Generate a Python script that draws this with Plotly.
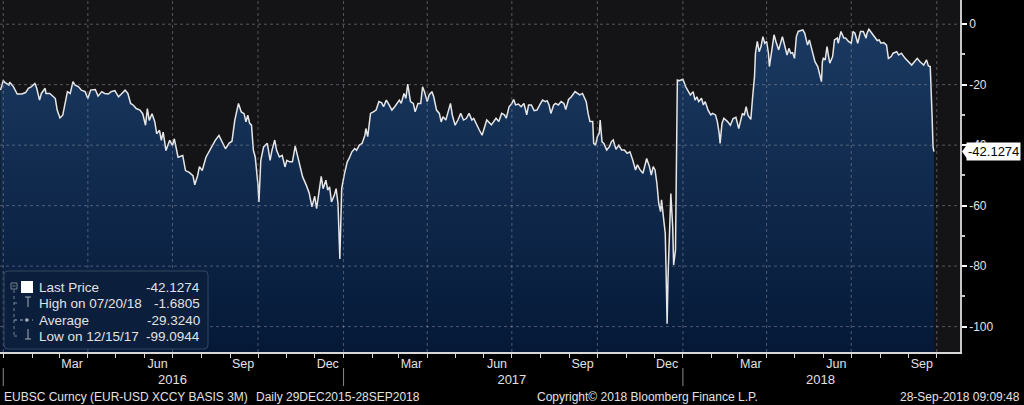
import plotly.graph_objects


# EUR-USD 3M cross currency basis
DATES = [
    '2015-12-29', '2016-01-01', '2016-01-03', '2016-01-07', '2016-01-08', '2016-01-12', '2016-01-16',
    '2016-01-21', '2016-01-25', '2016-01-28', '2016-01-31', '2016-02-04', '2016-02-06', '2016-02-09',
    '2016-02-11', '2016-02-15', '2016-02-16', '2016-02-20', '2016-02-24', '2016-02-26', '2016-02-28',
    '2016-03-02', '2016-03-05', '2016-03-07', '2016-03-10', '2016-03-13', '2016-03-16', '2016-03-18',
    '2016-03-22', '2016-03-25', '2016-03-29', '2016-04-01', '2016-04-04', '2016-04-09', '2016-04-12',
    '2016-04-16', '2016-04-19', '2016-04-23', '2016-04-26', '2016-04-30', '2016-05-04', '2016-05-07',
    '2016-05-11', '2016-05-14', '2016-05-17', '2016-05-20', '2016-05-23', '2016-05-27', '2016-05-30',
    '2016-06-02', '2016-06-04', '2016-06-06', '2016-06-09', '2016-06-12', '2016-06-14', '2016-06-17',
    '2016-06-19', '2016-06-21', '2016-06-24', '2016-06-28', '2016-07-01', '2016-07-03', '2016-07-07',
    '2016-07-12', '2016-07-15', '2016-07-19', '2016-07-23', '2016-07-25', '2016-07-28', '2016-07-30',
    '2016-08-02', '2016-08-06', '2016-08-09', '2016-08-13', '2016-08-16', '2016-08-20', '2016-08-24',
    '2016-08-27', '2016-08-31', '2016-09-03', '2016-09-06', '2016-09-09', '2016-09-10', '2016-09-13',
    '2016-09-16', '2016-09-18', '2016-09-20', '2016-09-22', '2016-09-24', '2016-09-26', '2016-09-28',
    '2016-10-01', '2016-10-02', '2016-10-04', '2016-10-07', '2016-10-09', '2016-10-11', '2016-10-14',
    '2016-10-16', '2016-10-19', '2016-10-21', '2016-10-24', '2016-10-27', '2016-10-30', '2016-11-01',
    '2016-11-04', '2016-11-07', '2016-11-10', '2016-11-13', '2016-11-15', '2016-11-18', '2016-11-22',
    '2016-11-25', '2016-11-28', '2016-12-01', '2016-12-03', '2016-12-05', '2016-12-08', '2016-12-10',
    '2016-12-13', '2016-12-15', '2016-12-17', '2016-12-19', '2016-12-22', '2016-12-24', '2016-12-26',
    '2016-12-28', '2016-12-30', '2017-01-02', '2017-01-05', '2017-01-07', '2017-01-10', '2017-01-13',
    '2017-01-15', '2017-01-18', '2017-01-21', '2017-01-24', '2017-01-25', '2017-01-27', '2017-01-30',
    '2017-02-02', '2017-02-05', '2017-02-08', '2017-02-11', '2017-02-13', '2017-02-16', '2017-02-19',
    '2017-02-22', '2017-02-25', '2017-02-28', '2017-03-02', '2017-03-04', '2017-03-07', '2017-03-09',
    '2017-03-11', '2017-03-14', '2017-03-17', '2017-03-19', '2017-03-22', '2017-03-25', '2017-03-27',
    '2017-03-29', '2017-04-01', '2017-04-03', '2017-04-06', '2017-04-08', '2017-04-11', '2017-04-14',
    '2017-04-16', '2017-04-18', '2017-04-21', '2017-04-24', '2017-04-26', '2017-04-28', '2017-05-01',
    '2017-05-04', '2017-05-07', '2017-05-10', '2017-05-13', '2017-05-16', '2017-05-19', '2017-05-21',
    '2017-05-24', '2017-05-27', '2017-05-30', '2017-06-01', '2017-06-04', '2017-06-09', '2017-06-12',
    '2017-06-14', '2017-06-17', '2017-06-20', '2017-06-23', '2017-06-25', '2017-06-28', '2017-07-01',
    '2017-07-03', '2017-07-05', '2017-07-08', '2017-07-11', '2017-07-14', '2017-07-17', '2017-07-19',
    '2017-07-22', '2017-07-25', '2017-07-28', '2017-07-31', '2017-08-03', '2017-08-06', '2017-08-08',
    '2017-08-10', '2017-08-12', '2017-08-15', '2017-08-17', '2017-08-20', '2017-08-23', '2017-08-26',
    '2017-08-28', '2017-08-31', '2017-09-03', '2017-09-07', '2017-09-10', '2017-09-12', '2017-09-15',
    '2017-09-17', '2017-09-19', '2017-09-21', '2017-09-23', '2017-09-26', '2017-09-27', '2017-09-29',
    '2017-10-01', '2017-10-03', '2017-10-04', '2017-10-06', '2017-10-08', '2017-10-11', '2017-10-14',
    '2017-10-16', '2017-10-18', '2017-10-21', '2017-10-24', '2017-10-27', '2017-10-30', '2017-11-02',
    '2017-11-05', '2017-11-08', '2017-11-11', '2017-11-13', '2017-11-16', '2017-11-19', '2017-11-22',
    '2017-11-23', '2017-11-26', '2017-11-28', '2017-11-30', '2017-12-02', '2017-12-04', '2017-12-06',
    '2017-12-08', '2017-12-09', '2017-12-11', '2017-12-13', '2017-12-14', '2017-12-15', '2017-12-16',
    '2017-12-18', '2017-12-19', '2017-12-21', '2017-12-22', '2017-12-24', '2017-12-26', '2017-12-28',
    '2018-01-01', '2018-01-04', '2018-01-07', '2018-01-09', '2018-01-12', '2018-01-14', '2018-01-16',
    '2018-01-18', '2018-01-21', '2018-01-23', '2018-01-25', '2018-01-28', '2018-01-31', '2018-02-02',
    '2018-02-05', '2018-02-07', '2018-02-09', '2018-02-10', '2018-02-12', '2018-02-14', '2018-02-18',
    '2018-02-21', '2018-02-24', '2018-02-27', '2018-03-02', '2018-03-04', '2018-03-06', '2018-03-08',
    '2018-03-10', '2018-03-12', '2018-03-15', '2018-03-17', '2018-03-19', '2018-03-20', '2018-03-22',
    '2018-03-24', '2018-03-26', '2018-03-28', '2018-03-30', '2018-04-01', '2018-04-03', '2018-04-04',
    '2018-04-06', '2018-04-09', '2018-04-11', '2018-04-14', '2018-04-18', '2018-04-21', '2018-04-23',
    '2018-04-25', '2018-04-27', '2018-04-29', '2018-05-01', '2018-05-03', '2018-05-05', '2018-05-08',
    '2018-05-10', '2018-05-12', '2018-05-15', '2018-05-17', '2018-05-20', '2018-05-23', '2018-05-26',
    '2018-05-28', '2018-05-30', '2018-05-31', '2018-06-01', '2018-06-03', '2018-06-05', '2018-06-07',
    '2018-06-08', '2018-06-11', '2018-06-13', '2018-06-16', '2018-06-17', '2018-06-20', '2018-06-23',
    '2018-06-25', '2018-06-28', '2018-07-01', '2018-07-03', '2018-07-05', '2018-07-08', '2018-07-11',
    '2018-07-14', '2018-07-17', '2018-07-18', '2018-07-20', '2018-07-23', '2018-07-26', '2018-07-29',
    '2018-07-31', '2018-08-02', '2018-08-05', '2018-08-08', '2018-08-10', '2018-08-13', '2018-08-15',
    '2018-08-19', '2018-08-21', '2018-08-24', '2018-08-28', '2018-08-31', '2018-09-04', '2018-09-07',
    '2018-09-10', '2018-09-13', '2018-09-15', '2018-09-17', '2018-09-20', '2018-09-22', '2018-09-24',
    '2018-09-25', '2018-09-26', '2018-09-27', '2018-09-28',
]

BASIS = [
    -21.8, -18.7, -19.3, -20.1, -19.2, -20.7, -23.1,
    -23.1, -22.6, -21.2, -20.7, -19.6, -21.2, -25.1,
    -22.9, -21.2, -22.9, -22.9, -24.0, -24.6, -28.4,
    -31.0, -30.1, -27.3, -22.3, -22.9, -19.0, -20.1,
    -20.7, -21.8, -22.3, -24.6, -21.8, -21.6, -23.8,
    -22.3, -22.9, -23.1, -22.3, -22.0, -24.0, -23.1,
    -21.8, -22.9, -26.2, -26.8, -27.9, -28.4, -29.6,
    -33.4, -27.9, -31.8, -29.6, -32.3, -36.2, -35.1,
    -38.4, -35.7, -41.8, -38.4, -40.1, -37.9, -44.0,
    -43.4, -48.4, -49.0, -50.1, -53.1, -50.1, -47.1,
    -48.4, -44.0, -42.3, -39.6, -38.4, -36.8, -39.6,
    -41.2, -39.3, -38.7, -31.8, -27.9, -26.2, -29.0,
    -29.6, -32.3, -30.1, -32.8, -33.4, -41.7, -43.9,
    -53.3, -58.8, -45.0, -40.6, -40.0, -39.4, -45.0,
    -41.7, -38.3, -41.7, -43.9, -43.4, -47.2, -45.0,
    -45.5, -45.5, -40.3, -43.9, -47.2, -50.5, -53.3,
    -55.8, -60.4, -56.9, -61.0, -56.6, -50.3, -54.4,
    -51.6, -54.9, -53.8, -58.8, -56.6, -54.4, -59.3,
    -77.6, -54.4, -49.4, -45.5, -44.4, -42.2, -41.1,
    -41.7, -40.0, -39.4, -36.7, -34.5, -37.2, -29.5,
    -29.0, -28.4, -25.6, -26.0, -27.3, -25.1, -26.7,
    -28.4, -27.3, -26.2, -25.1, -26.2, -22.9, -24.5,
    -19.8, -25.6, -26.2, -29.0, -26.2, -26.2, -20.7,
    -22.3, -25.6, -23.4, -22.3, -24.0, -28.4, -29.5,
    -32.3, -30.6, -31.7, -28.4, -26.2, -30.1, -33.4,
    -31.7, -29.5, -31.7, -31.2, -29.5, -31.7, -31.2,
    -33.4, -35.0, -36.7, -34.5, -31.7, -33.3, -32.2,
    -31.1, -32.2, -29.5, -30.0, -31.1, -27.3, -26.2,
    -24.9, -26.7, -26.4, -27.3, -26.2, -30.0, -26.7,
    -26.7, -28.6, -28.4, -26.7, -25.1, -25.6, -25.3,
    -26.7, -29.5, -26.7, -26.2, -26.7, -25.6, -26.2,
    -28.2, -24.9, -24.0, -22.3, -22.9, -23.4, -22.9,
    -24.0, -25.6, -29.5, -32.2, -32.2, -39.4, -40.0,
    -37.2, -36.1, -31.7, -38.9, -39.4, -41.6, -40.5,
    -38.9, -38.3, -41.4, -40.0, -41.6, -41.6, -42.7,
    -42.2, -44.9, -48.2, -46.5, -48.2, -49.3, -46.0,
    -44.4, -47.1, -49.9, -47.1, -48.2, -52.6, -59.3,
    -62.0, -58.1, -63.7, -69.2, -83.5, -99.0944, -83.5,
    -59.3, -56.0, -67.0, -79.6, -74.7, -18.5, -18.7,
    -18.2, -20.7, -22.3, -23.4, -22.3, -25.1, -24.0,
    -25.6, -24.5, -26.7, -25.6, -28.4, -30.0, -29.5,
    -30.0, -32.2, -36.1, -39.4, -32.8, -31.1, -32.2,
    -33.4, -31.2, -30.8, -34.5, -32.3, -29.5, -30.1,
    -27.3, -30.1, -31.5, -24.0, -17.3, -9.6, -5.7,
    -9.1, -7.4, -4.1, -6.3, -5.7, -9.6, -14.0,
    -9.6, -3.5, -5.7, -8.5, -4.1, -7.4, -10.2,
    -8.0, -9.6, -9.4, -11.3, -4.1, -2.4, -2.1,
    -1.9, -3.0, -6.9, -5.2, -8.5, -12.4, -14.0,
    -16.2, -19.0, -12.4, -11.3, -11.8, -7.4, -11.3,
    -12.9, -10.7, -5.2, -4.6, -6.3, -2.4, -4.6,
    -4.6, -5.7, -6.3, -2.4, -3.0, -6.3, -2.4,
    -2.4, -4.6, -3.0, -1.6805, -3.0, -4.1, -5.4,
    -5.2, -6.3, -6.1, -6.9, -11.3, -10.7, -9.6,
    -9.1, -10.2, -9.6, -11.3, -12.4, -13.5, -12.4,
    -11.3, -12.4, -12.9, -13.5, -11.8, -13.8, -14.0,
    -20.7, -30.6, -40.6, -42.1274,
]

LEGEND_LABELS = ['Last Price', 'High on 07/20/18', 'Average', 'Low on 12/15/17']
LEGEND_VALUES = [-42.1274, -1.6805, -29.3240, -99.0944]
LAST_VALUE = LEGEND_VALUES[0]

MONTH_TICKS = [
    '2016-03-15', '2016-06-15', '2016-09-15', '2016-12-15',
    '2017-03-15', '2017-06-15', '2017-09-15', '2017-12-15',
    '2018-03-15', '2018-06-15', '2018-09-15',
]
MONTH_LABELS = ['Mar', 'Jun', 'Sep', 'Dec', 'Mar', 'Jun', 'Sep', 'Dec', 'Mar', 'Jun', 'Sep']
YEAR_TICKS = ['2016-07-01', '2017-07-01', '2018-05-29']
YEAR_LABELS = ['2016', '2017', '2018']
YEAR_BREAKS = ['2016-01-01', '2017-01-01', '2018-01-01']
QUARTER_STARTS = [
    '2016-01-01', '2016-04-01', '2016-07-01', '2016-10-01',
    '2017-01-01', '2017-04-01', '2017-07-01', '2017-10-01',
    '2018-01-01', '2018-04-01', '2018-07-01', '2018-10-01',
]
Y_TICKS = [0, -20, -40, -60, -80, -100]
Y_TICK_LABELS = ['0', '-20', '-40', '-60', '-80', '-100']
Y_MINOR_TICKS = [-10, -30, -50, -70, -90]

X_RANGE = ['2015-12-28 12:00', '2018-10-26']
Y_MIN = -108.4
Y_MAX = 8.0

# plot area in pixels (margin l=0, t=0)
PLOT_W = 960
PLOT_H = 352

FONT = 'Liberation Sans'
TEXT_COLOR = '#e2e2e2'
GRID_COLOR = 'rgba(150,150,165,0.5)'


def px(x):
    return x / PLOT_W


def py(y):
    return (PLOT_H - y) / PLOT_H


def rounded_box(x0, y0, x1, y1, r):
    return (
        f'M {px(x0 + r)},{py(y0)} L {px(x1 - r)},{py(y0)} '
        f'Q {px(x1)},{py(y0)} {px(x1)},{py(y0 + r)} L {px(x1)},{py(y1 - r)} '
        f'Q {px(x1)},{py(y1)} {px(x1 - r)},{py(y1)} L {px(x0 + r)},{py(y1)} '
        f'Q {px(x0)},{py(y1)} {px(x0)},{py(y1 - r)} L {px(x0)},{py(y0 + r)} '
        f'Q {px(x0)},{py(y0)} {px(x0 + r)},{py(y0)} Z'
    )


def seg(x0, y0, x1, y1, color, width=1, dash='solid'):
    return dict(
        type='line', xref='paper', yref='paper', layer='above',
        x0=px(x0), y0=py(y0), x1=px(x1), y1=py(y1),
        line=dict(color=color, width=width, dash=dash),
    )


def main():
    figure = plotly.graph_objects.Figure()

    # invisible floor for the area fill, also keeps the label axes alive
    for axis in ['x3', 'x2', 'x']:
        figure.add_trace(plotly.graph_objects.Scatter(
            x=[DATES[0], DATES[-1]],
            y=[Y_MIN, Y_MIN],
            xaxis=axis,
            mode='lines',
            line=dict(width=0, color='rgba(0,0,0,0)'),
            hoverinfo='skip',
            showlegend=False,
        ))
    figure.add_trace(plotly.graph_objects.Scatter(
        x=DATES,
        y=BASIS,
        name='Last Price',
        mode='lines',
        line=dict(color='#e6e6e6', width=1.5),
        fill='tonexty',
        fillgradient=dict(
            type='vertical',
            colorscale=[[0, '#051937'], [1, '#1b3a62']],
            start=Y_MIN,
            stop=0,
        ),
        showlegend=False,
    ))

    shapes = []
    # dotted grid, drawn on top of the area like the terminal does
    for d in QUARTER_STARTS:
        shapes.append(dict(
            type='line', xref='x', yref='paper', layer='above',
            x0=d, x1=d, y0=0, y1=1,
            line=dict(color=GRID_COLOR, width=1, dash='dot'),
        ))
    for v in Y_TICKS:
        shapes.append(dict(
            type='line', xref='paper', yref='y', layer='above',
            x0=0, x1=1, y0=v, y1=v,
            line=dict(color=GRID_COLOR, width=1, dash='dot'),
        ))
    # year separators under the month labels
    for d in YEAR_BREAKS:
        shapes.append(dict(
            type='line', xref='x', yref='paper', layer='above',
            x0=d, x1=d, y0=py(368), y1=py(386),
            line=dict(color='#8a8a8a', width=1),
        ))

    # legend panel
    shapes.append(dict(
        type='path', xref='paper', yref='paper', layer='above',
        path=rounded_box(4, 271, 208, 349, 4),
        fillcolor='#0b1e3b', line=dict(color='#34465e', width=1),
    ))
    tree = '#75808e'
    icon = '#a4acb6'
    shapes.append(dict(
        type='rect', xref='paper', yref='paper', layer='above',
        x0=px(11), x1=px(17), y0=py(283), y1=py(289),
        line=dict(color=tree, width=1),
    ))
    shapes.append(seg(12.5, 286, 15.5, 286, tree))
    shapes.append(seg(14, 290, 14, 336, tree, dash='dot'))
    shapes.append(seg(14, 303, 20, 303, tree, dash='dot'))
    shapes.append(seg(14, 336, 20, 336, tree, dash='dot'))
    shapes.append(dict(
        type='rect', xref='paper', yref='paper', layer='above',
        x0=px(21), x1=px(33), y0=py(281), y1=py(293),
        fillcolor='#ffffff', line=dict(width=0),
    ))
    # high marker
    shapes.append(seg(25, 297, 31, 297, icon))
    shapes.append(seg(28, 297, 28, 307, icon))
    # average marker
    shapes.append(seg(14, 320, 33, 320, icon, dash='dot'))
    shapes.append(dict(
        type='circle', xref='paper', yref='paper', layer='above',
        x0=px(25), x1=px(28.5), y0=py(318.3), y1=py(321.7),
        fillcolor=icon, line=dict(width=0),
    ))
    # low marker
    shapes.append(seg(28, 329, 28, 339, icon))
    shapes.append(seg(25, 339, 31, 339, icon))

    # tip of the last price flag on the axis
    shapes.append(dict(
        type='path', xref='paper', yref='y', layer='above',
        xsizemode='pixel', ysizemode='pixel',
        xanchor=1, yanchor=LAST_VALUE,
        path='M 2,0 L 7,7 L 7,-7 Z',
        fillcolor='#ffffff', line=dict(width=0),
    ))

    annotations = []
    rows = [287, 303, 320, 336]
    for label, value, row in zip(LEGEND_LABELS, LEGEND_VALUES, rows):
        annotations.append(dict(
            xref='paper', yref='paper', x=px(37), y=py(row),
            xanchor='left', yanchor='middle', showarrow=False,
            text=label, font=dict(family=FONT, size=13.5, color=TEXT_COLOR),
        ))
        annotations.append(dict(
            xref='paper', yref='paper', x=px(202), y=py(row),
            xanchor='right', yanchor='middle', showarrow=False,
            text=f'{value:.4f}', font=dict(family=FONT, size=13.5, color=TEXT_COLOR),
        ))

    annotations.append(dict(
        xref='paper', yref='y', x=1, y=LAST_VALUE,
        xanchor='left', yanchor='middle', xshift=6, showarrow=False,
        text=f'{LAST_VALUE:.4f}', bgcolor='#ffffff', borderpad=1,
        font=dict(family=FONT, size=13, color='#000000'),
    ))

    footer = [
        ('EUBSC Curncy (EUR-USD XCCY BASIS 3M)', 2, 'left'),
        ('Daily 29DEC2015-28SEP2018', 254, 'left'),
        ('Copyright\u00a9 2018 Bloomberg Finance L.P.', 535, 'left'),
        ('28-Sep-2018 09:09:48', 1022, 'right'),
    ]
    for text, x, anchor in footer:
        annotations.append(dict(
            xref='paper', yref='paper', x=px(x), y=py(397),
            xanchor=anchor, yanchor='middle', showarrow=False,
            text=text, font=dict(family=FONT, size=12, color=TEXT_COLOR),
        ))

    figure.update_layout(
        width=1024,
        height=405,
        margin=dict(l=0, r=64, t=0, b=53),
        paper_bgcolor='#000000',
        plot_bgcolor='#141417',
        showlegend=False,
        font=dict(family=FONT, size=12, color=TEXT_COLOR),
        xaxis=dict(
            type='date',
            range=X_RANGE,
            showgrid=False,
            zeroline=False,
            showline=True,
            linecolor='#d8d8d8',
            linewidth=1.5,
            tickmode='linear',
            tick0='2016-01-01',
            dtick='M1',
            ticks='outside',
            ticklen=4,
            tickcolor='#d8d8d8',
            showticklabels=False,
        ),
        xaxis2=dict(
            type='date',
            overlaying='x',
            anchor='y',
            side='bottom',
            range=X_RANGE,
            showgrid=False,
            zeroline=False,
            showline=False,
            tickmode='array',
            tickvals=MONTH_TICKS,
            ticktext=MONTH_LABELS,
            ticks='',
            ticklabelstandoff=2,
            tickfont=dict(family=FONT, size=12.5, color=TEXT_COLOR),
        ),
        xaxis3=dict(
            type='date',
            overlaying='x',
            anchor='y',
            side='bottom',
            range=X_RANGE,
            showgrid=False,
            zeroline=False,
            showline=False,
            tickmode='array',
            tickvals=YEAR_TICKS,
            ticktext=YEAR_LABELS,
            ticks='',
            ticklabelstandoff=18,
            tickfont=dict(family=FONT, size=13, color=TEXT_COLOR),
        ),
        yaxis=dict(
            side='right',
            range=[Y_MIN, Y_MAX],
            showgrid=False,
            zeroline=False,
            showline=True,
            linecolor='#c8c8c8',
            linewidth=1.5,
            tickmode='array',
            tickvals=Y_TICKS,
            ticktext=Y_TICK_LABELS,
            ticks='outside',
            ticklen=5,
            tickwidth=2,
            tickcolor='#ffffff',
            tickfont=dict(family=FONT, size=12, color=TEXT_COLOR),
            minor=dict(
                tickmode='array',
                tickvals=Y_MINOR_TICKS,
                ticks='outside',
                ticklen=3,
                tickcolor='#c8c8c8',
                showgrid=False,
            ),
        ),
        shapes=shapes,
        annotations=annotations,
    )
    # the page keeps the browser's default body margin otherwise
    figure.write_html(
        'out.html',
        config={'displayModeBar': False},
        post_script="document.body.style.margin='0';",
    )


if __name__ == '__main__':
    main()
